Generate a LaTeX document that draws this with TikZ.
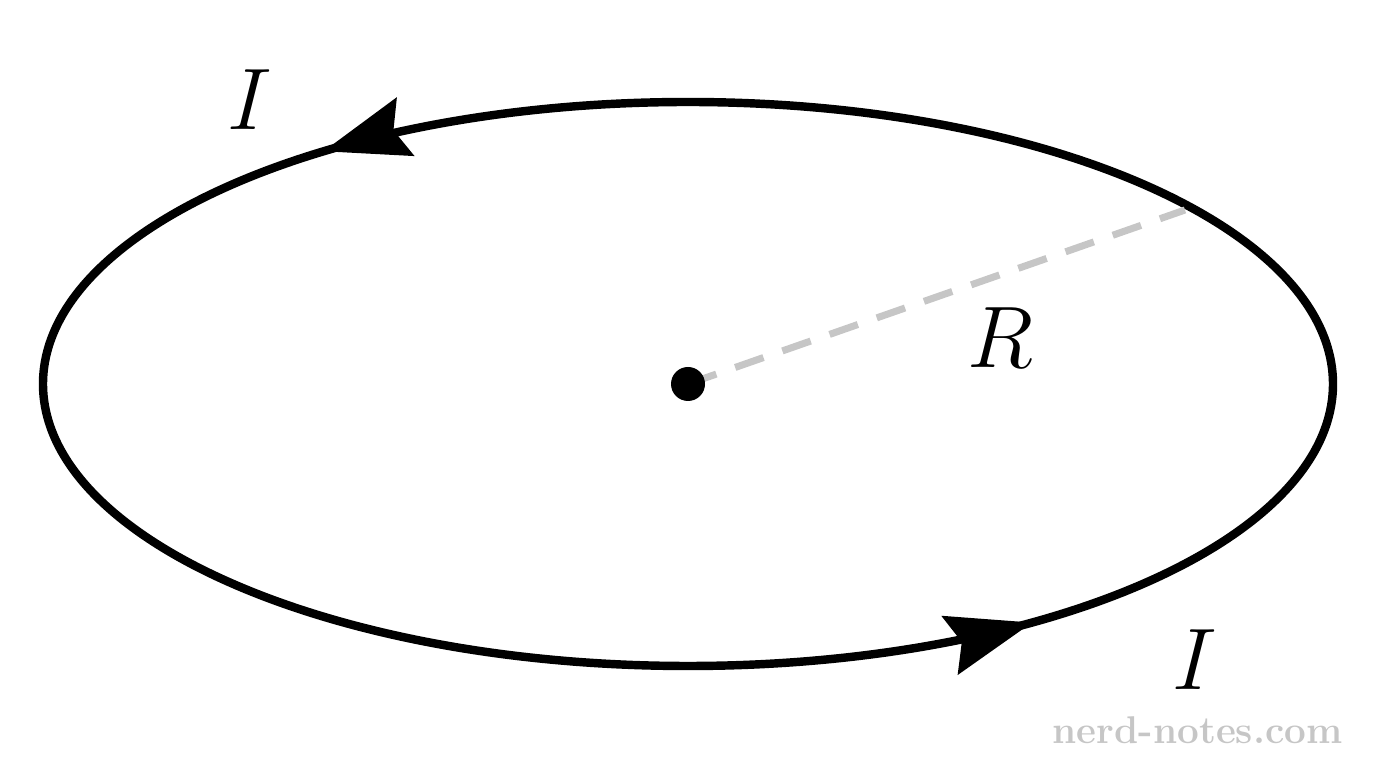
\documentclass[tikz,border=0pt]{standalone}
\usepackage{amsmath}
\usetikzlibrary{positioning}
\usetikzlibrary{decorations.markings}
\usetikzlibrary{arrows.meta}
\begin{document}
\begin{tikzpicture}[loop/.style={
			draw,
			line width=2.4pt,
			postaction={decorate},
			decoration={markings,
				mark=at position 0.372 with {\arrow{Stealth[length=0.85cm,width=0.6cm,inset=0.12cm]}},
				mark=at position 0.865 with {\arrow{Stealth[length=0.85cm,width=0.6cm,inset=0.12cm]}}},
		}, big/.style={font=\fontsize{26}{30}\selectfont}]
		\useasboundingbox (0,0) rectangle (13.76,7.68);
		\coordinate (c) at (6.88,3.84);
		\draw[loop] (c) ++(6.45,0) arc[start angle=0, end angle=360, x radius=6.45, y radius=2.82];
		
		\coordinate (edge) at (11.85,5.58);
		\draw[gray!45, line width=2pt, dash pattern=on 0.3cm off 0.2cm] (c) -- (edge);
		\fill (c) circle (0.17);
		
		\node[big] (r) at (10.0,4.3) {$R$};
		\node[big] (itop) at (2.5,6.68) {$I$};
		\node[big] (ibot) at (11.95,1.08) {$I$};
		\node[text=gray!45, font=\fontsize{11}{13}\selectfont\bfseries, anchor=east] (wm) at (13.55,0.38) {nerd-notes.com};
	\end{tikzpicture}
\end{document}
